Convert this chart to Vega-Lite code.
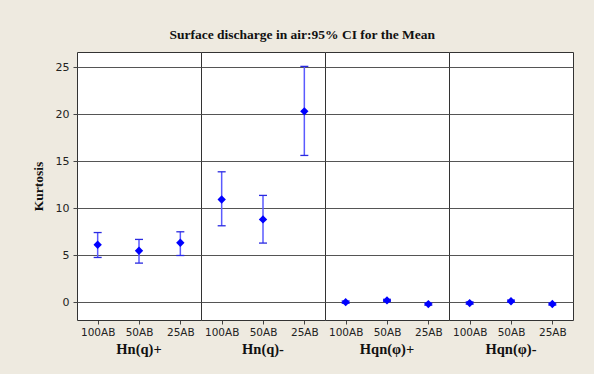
{
  "$schema": "https://vega.github.io/schema/vega-lite/v6.json",
  "background": "#EEEAE0",
  "padding": {"left": 31, "top": 28, "right": 21, "bottom": 20},
  "bounds": "flush",
  "title": {
    "text": "Surface discharge in air:95% CI for the Mean",
    "font": "Liberation Serif",
    "fontSize": 13.5,
    "fontWeight": "bold",
    "color": "#111111",
    "anchor": "middle",
    "offset": 10
  },
  "data": {
    "values": [
      {"group": "Hn(q)+", "level": "100AB", "mean": 6.1, "lower": 4.75, "upper": 7.4},
      {"group": "Hn(q)+", "level": "50AB", "mean": 5.46, "lower": 4.15, "upper": 6.67},
      {"group": "Hn(q)+", "level": "25AB", "mean": 6.31, "lower": 4.96, "upper": 7.48},
      {"group": "Hn(q)-", "level": "100AB", "mean": 10.92, "lower": 8.12, "upper": 13.86},
      {"group": "Hn(q)-", "level": "50AB", "mean": 8.8, "lower": 6.28, "upper": 11.35},
      {"group": "Hn(q)-", "level": "25AB", "mean": 20.29, "lower": 15.6, "upper": 25.07},
      {"group": "Hqn(φ)+", "level": "100AB", "mean": 0.0, "lower": -0.12, "upper": 0.12},
      {"group": "Hqn(φ)+", "level": "50AB", "mean": 0.18, "lower": 0.06, "upper": 0.3},
      {"group": "Hqn(φ)+", "level": "25AB", "mean": -0.21, "lower": -0.33, "upper": -0.09},
      {"group": "Hqn(φ)-", "level": "100AB", "mean": -0.1, "lower": -0.22, "upper": 0.02},
      {"group": "Hqn(φ)-", "level": "50AB", "mean": 0.1, "lower": -0.02, "upper": 0.22},
      {"group": "Hqn(φ)-", "level": "25AB", "mean": -0.2, "lower": -0.32, "upper": -0.08}
    ]
  },
  "facet": {
    "column": {
      "field": "group",
      "type": "nominal",
      "sort": ["Hn(q)+", "Hn(q)-", "Hqn(φ)+", "Hqn(φ)-"],
      "header": {
        "title": null,
        "labelOrient": "bottom",
        "labelFont": "Liberation Serif",
        "labelFontWeight": "bold",
        "labelFontSize": 14.5,
        "labelColor": "#111111",
        "labelPadding": 5
      }
    }
  },
  "spacing": 0,
  "spec": {
    "width": 124,
    "height": 268,
    "encoding": {
      "x": {
        "field": "level",
        "type": "nominal",
        "sort": ["100AB", "50AB", "25AB"],
        "scale": {"type": "point", "padding": 0.5},
        "axis": {
          "title": null,
          "labelAngle": 0,
          "labelFont": "DejaVu Sans",
          "labelFontSize": 10.5,
          "labelColor": "#222222",
          "tickColor": "#444444",
          "tickSize": 4,
          "labelPadding": 3,
          "domain": false,
          "grid": false
        }
      }
    },
    "layer": [
      {
        "mark": {"type": "rule", "color": "#5A5AFF", "strokeWidth": 1.5},
        "encoding": {
          "y": {
            "field": "lower",
            "type": "quantitative",
            "scale": {"domain": [-1.9, 26.6], "nice": false, "zero": false},
            "axis": {
              "title": "Kurtosis",
              "titleFont": "Liberation Serif",
              "titleFontWeight": "bold",
              "titleFontSize": 13.5,
              "titleColor": "#111111",
              "titlePadding": 10,
              "values": [0, 5, 10, 15, 20, 25],
              "labelFont": "DejaVu Sans",
              "labelFontSize": 11,
              "labelColor": "#222222",
              "tickColor": "#444444",
              "tickSize": 4,
              "labelPadding": 4,
              "domain": false,
              "grid": true,
              "gridColor": "#555555",
              "gridWidth": 1,
              "gridOpacity": 1
            }
          },
          "y2": {"field": "upper"}
        }
      },
      {
        "mark": {"type": "tick", "orient": "horizontal", "color": "#2A2AE0", "size": 8, "thickness": 1.3, "opacity": 1},
        "encoding": {"y": {"field": "upper", "type": "quantitative"}}
      },
      {
        "mark": {"type": "tick", "orient": "horizontal", "color": "#2A2AE0", "size": 8, "thickness": 1.3, "opacity": 1},
        "encoding": {"y": {"field": "lower", "type": "quantitative"}}
      },
      {
        "mark": {"type": "point", "shape": "diamond", "filled": true, "color": "#0000FF", "size": 70, "opacity": 1},
        "encoding": {"y": {"field": "mean", "type": "quantitative"}}
      }
    ]
  },
  "config": {
    "view": {"stroke": "#333333", "strokeWidth": 1, "fill": "white"},
    "axis": {"labelFlush": false}
  }
}
